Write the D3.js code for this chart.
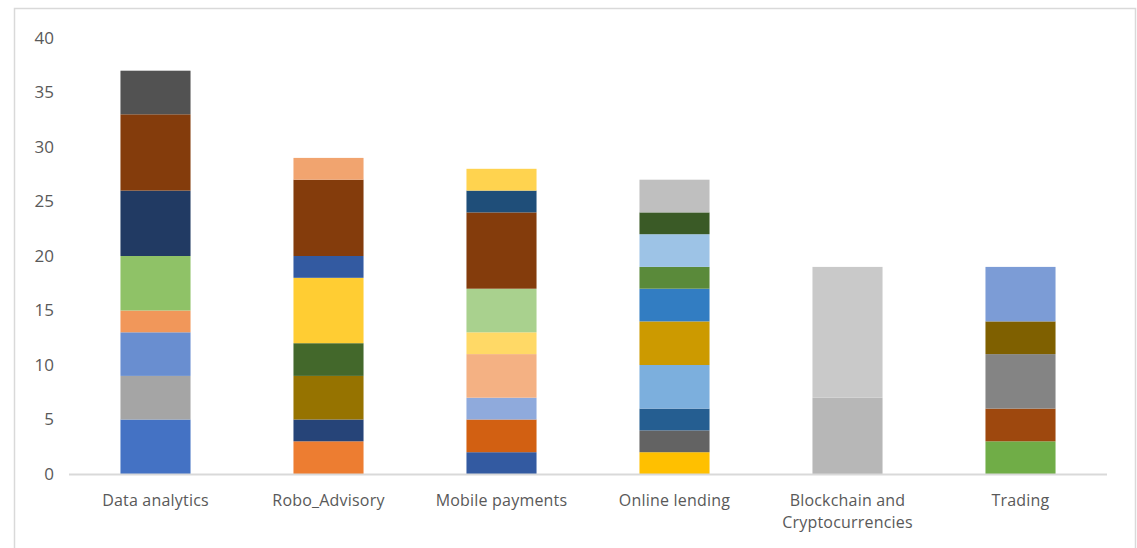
<!DOCTYPE html>
<html>
<head>
<meta charset="utf-8">
<script src="https://cdn.jsdelivr.net/npm/d3@7"></script>
<style>
  html, body { margin: 0; padding: 0; background: #fff; }
  svg { display: block; }
  text { font-family: "Open Sans", "Liberation Sans", sans-serif; fill: #595959; }
</style>
</head>
<body>
<svg id="chart" width="1137" height="548"></svg>
<script>
// Fintech topics and the stacked segment counts for each one (bottom to top)
const categories = ["Data analytics", "Robo_Advisory", "Mobile payments", "Online lending", "Blockchain and\nCryptocurrencies", "Trading"];

const dataAnalytics   = [5, 4, 4, 2, 5, 6, 7, 4];
const roboAdvisory    = [3, 2, 4, 3, 6, 2, 7, 2];
const mobilePayments  = [2, 3, 2, 4, 2, 4, 7, 2, 2];
const onlineLending   = [2, 2, 2, 4, 4, 3, 2, 3, 2, 3];
const blockchain      = [7, 12];
const trading         = [3, 3, 5, 3, 5];

const yTicks = [0, 5, 10, 15, 20, 25, 30, 35, 40];

// Segment fills, bottom to top, per category
const dataAnalyticsColors  = ["#4472C4", "#A5A5A5", "#698ED0", "#F1975A", "#8FC267", "#213A63", "#843C0C", "#525252"];
const roboAdvisoryColors   = ["#ED7D31", "#264478", "#967300", "#43682B", "#FFCD33", "#335AA1", "#843C0C", "#F1A46F"];
const mobilePaymentsColors = ["#335AA1", "#D26012", "#8FAADC", "#F4B183", "#FFD966", "#A9D18E", "#843C0C", "#1F4E79", "#FFD34F"];
const onlineLendingColors  = ["#FFC000", "#636363", "#255E91", "#7CAFDD", "#CC9A00", "#327DC2", "#5A8A3A", "#9DC3E6", "#3A5A26", "#BFBFBF"];
const blockchainColors     = ["#B7B7B7", "#C9C9C9"];
const tradingColors        = ["#70AD47", "#9E480E", "#848484", "#7F6000", "#7C9CD6"];

const seriesByCategory = [dataAnalytics, roboAdvisory, mobilePayments, onlineLending, blockchain, trading];
const colorsByCategory = [dataAnalyticsColors, roboAdvisoryColors, mobilePaymentsColors, onlineLendingColors, blockchainColors, tradingColors];

const svg = d3.select("#chart");

// chart frame
svg.append("rect")
  .attr("x", 14.5).attr("y", 8.5)
  .attr("width", 1121).attr("height", 560)
  .attr("fill", "#fff")
  .attr("stroke", "#D9D9D9").attr("stroke-width", 1.5);

const x = d3.scaleBand()
  .domain(categories)
  .range([69, 1107])
  .paddingInner(0.595)
  .paddingOuter(0.2975);

const y = d3.scaleLinear().domain([0, 40]).range([474, 38]);

// stacked segments
const stacks = categories.map((c, i) => {
  const vals = seriesByCategory[i];
  const tops = Array.from(d3.cumsum(vals));
  return vals.map((v, j) => ({ cat: c, y0: tops[j] - v, y1: tops[j], color: colorsByCategory[i][j] }));
});

const g = svg.append("g");
g.selectAll("g.stack")
  .data(stacks)
  .join("g")
  .attr("class", "stack")
  .selectAll("rect")
  .data(d => d)
  .join("rect")
  .attr("x", d => x(d.cat))
  .attr("width", x.bandwidth())
  .attr("y", d => y(d.y1))
  .attr("height", d => y(d.y0) - y(d.y1))
  .attr("fill", d => d.color);

// y axis labels
const yAxis = d3.axisLeft(y).tickValues(yTicks).tickSize(0).tickPadding(0);
const ya = svg.append("g").attr("transform", "translate(54,0)").call(yAxis);
ya.select(".domain").remove();
ya.selectAll("text").style("font-size", "17px").attr("fill", "#595959")
  .style("font-family", "'Open Sans', sans-serif");

// category axis
svg.append("line")
  .attr("x1", 69).attr("x2", 1107)
  .attr("y1", y(0) + 0.5).attr("y2", y(0) + 0.5)
  .attr("stroke", "#D9D9D9").attr("stroke-width", 2);

const xa = svg.append("g");
categories.forEach(c => {
  const lines = c.split("\n");
  const t = xa.append("text")
    .attr("x", x(c) + x.bandwidth() / 2)
    .attr("y", 506)
    .attr("text-anchor", "middle")
    .style("font-size", "16px")
    .style("letter-spacing", "0.2px");
  lines.forEach((ln, k) => {
    t.append("tspan")
      .attr("x", x(c) + x.bandwidth() / 2)
      .attr("dy", k === 0 ? 0 : 22)
      .text(ln);
  });
});
</script>
</body>
</html>
